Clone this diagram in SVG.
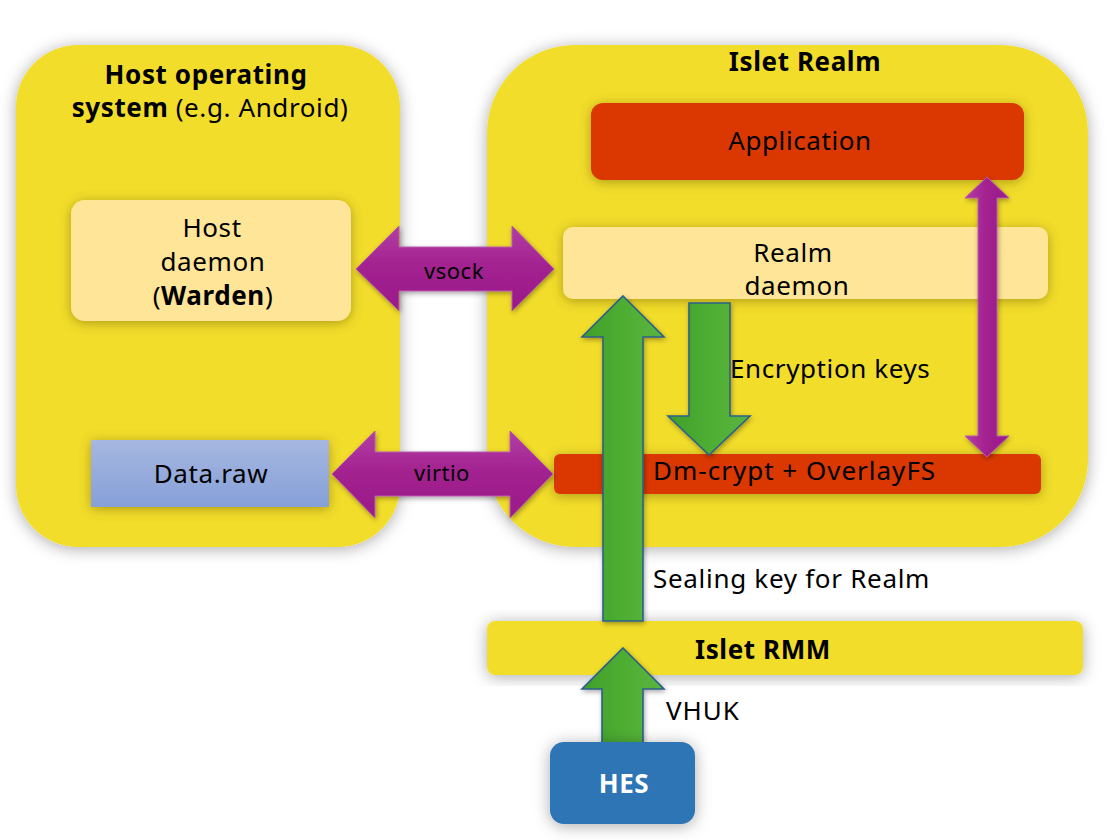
<svg xmlns="http://www.w3.org/2000/svg" width="1107" height="840" viewBox="0 0 1107 840">
<defs>
<filter id="sh" x="-20%" y="-20%" width="140%" height="140%"><feDropShadow dx="0" dy="2" stdDeviation="8" flood-color="#000" flood-opacity="0.33"/></filter>
<filter id="shi" x="-20%" y="-30%" width="140%" height="160%"><feDropShadow dx="0" dy="2" stdDeviation="6" flood-color="#5a4a00" flood-opacity="0.45"/></filter>
<filter id="sha" x="-30%" y="-10%" width="160%" height="120%"><feDropShadow dx="1" dy="2" stdDeviation="2.5" flood-color="#000" flood-opacity="0.35"/></filter>
<linearGradient id="gp" x1="0" y1="0" x2="0" y2="1"><stop offset="0" stop-color="#B23EA3"/><stop offset="0.5" stop-color="#A2208F"/><stop offset="1" stop-color="#9A1E8A"/></linearGradient>
<linearGradient id="gpv" x1="0" y1="0" x2="1" y2="0"><stop offset="0" stop-color="#B23EA3"/><stop offset="0.5" stop-color="#A2208F"/><stop offset="1" stop-color="#9A1E8A"/></linearGradient>
<linearGradient id="gg" x1="0" y1="0" x2="1" y2="0"><stop offset="0" stop-color="#3F9E2A"/><stop offset="0.5" stop-color="#4EAE32"/><stop offset="1" stop-color="#5AB440"/></linearGradient>
<linearGradient id="gb" x1="0" y1="0" x2="0" y2="1"><stop offset="0" stop-color="#A6B7E0"/><stop offset="1" stop-color="#86A0D8"/></linearGradient>
<style>
.t{font-family:"Noto Sans","Open Sans","DejaVu Sans",sans-serif;fill:#000;font-size:26px;letter-spacing:0.6px;}
.b{font-weight:bold;}
.s{font-size:22px;letter-spacing:0.5px;}
.panel{fill:#F2DD2B;}
.light{fill:#FFE597;}
.red{fill:#DA3800;}
.pa{fill:url(#gp);stroke:#B85AAE;stroke-width:1;}
.pav{fill:url(#gpv);stroke:#B85AAE;stroke-width:1;}
.ga{fill:url(#gg);stroke:#2B5F8C;stroke-width:1.6;}
</style>
</defs>
<rect width="1107" height="840" fill="#fff"/>

<g id="host-os">
<rect class="panel" x="16" y="45" width="384" height="502" rx="62" filter="url(#sh)"/>
<text class="t b" x="206" y="84" text-anchor="middle">Host operating</text>
<text class="t" x="210" y="117" text-anchor="middle"><tspan class="b">system</tspan> (e.g. Android)</text>
</g>

<g id="islet-realm">
<rect class="panel" x="487" y="45" width="601" height="502" rx="88" filter="url(#sh)"/>
<text class="t b" x="805" y="71" text-anchor="middle">Islet Realm</text>
</g>

<g id="host-daemon">
<rect class="light" x="71" y="200" width="280" height="121" rx="14" filter="url(#shi)"/>
<text class="t" x="212" y="237" text-anchor="middle">Host</text>
<text class="t" x="213" y="271" text-anchor="middle">daemon</text>
<text class="t" x="213" y="305" text-anchor="middle">(<tspan class="b">Warden</tspan>)</text>
</g>

<g id="data-raw">
<rect x="91" y="440" width="238" height="67" fill="url(#gb)" filter="url(#shi)"/>
<text class="t" x="211" y="483" text-anchor="middle">Data.raw</text>
</g>

<g id="application">
<rect class="red" x="591" y="103" width="433" height="77" rx="12" filter="url(#shi)"/>
<text class="t" x="800" y="150" text-anchor="middle">Application</text>
</g>

<g id="realm-daemon">
<rect class="light" x="563" y="227" width="485" height="72" rx="10" filter="url(#shi)"/>
<text class="t" x="793" y="262" text-anchor="middle">Realm</text>
<text class="t" x="797" y="295" text-anchor="middle">daemon</text>
</g>

<g id="dm-crypt">
<rect class="red" x="554" y="454" width="487" height="40" rx="6" filter="url(#shi)"/>
<text class="t" x="653" y="480" style="letter-spacing:1px">Dm-crypt + OverlayFS</text>
</g>

<g id="islet-rmm">
<rect class="panel" x="487" y="621" width="596" height="54" rx="8" filter="url(#sh)"/>
<text class="t b" x="763" y="659" text-anchor="middle">Islet RMM</text>
</g>

<g id="connectors">
<path class="pa" d="M356,269 L399,226 L399,247 L512,247 L512,226 L554,269 L512,311 L512,291 L399,291 L399,311 Z" filter="url(#sha)"/>
<text class="t s" x="454" y="279" text-anchor="middle">vsock</text>
<path class="pa" d="M332,474 L375,431 L375,452 L510,452 L510,431 L553,474 L510,518 L510,496 L375,496 L375,518 Z" filter="url(#sha)"/>
<text class="t s" x="442" y="481" text-anchor="middle">virtio</text>
<path class="pav" d="M987,177 L1009,198 L997,198 L997,436 L1009,436 L987,457 L965,436 L978,436 L978,198 L965,198 Z" filter="url(#sha)"/>
<path class="ga" d="M623,296 L664,337 L643,337 L643,621 L603,621 L603,337 L582,337 Z" filter="url(#sha)"/>
<path class="ga" d="M689,303 L730,303 L730,416 L750,416 L709,455 L668,416 L689,416 Z" filter="url(#sha)"/>
<path class="ga" d="M623,648 L664,689 L643,689 L643,745 L602,745 L602,689 L582,689 Z" filter="url(#sha)"/>
<text class="t" x="730" y="378">Encryption keys</text>
<text class="t" x="653" y="588" style="letter-spacing:0.7px">Sealing key for Realm</text>
<text class="t" x="666" y="720" style="letter-spacing:1px">VHUK</text>
</g>

<g id="hes">
<rect x="550" y="742" width="145" height="82" rx="14" fill="#2E74B5" filter="url(#sh)"/>
<text class="t b" x="624" y="793" text-anchor="middle" style="fill:#fff">HES</text>
</g>
</svg>
